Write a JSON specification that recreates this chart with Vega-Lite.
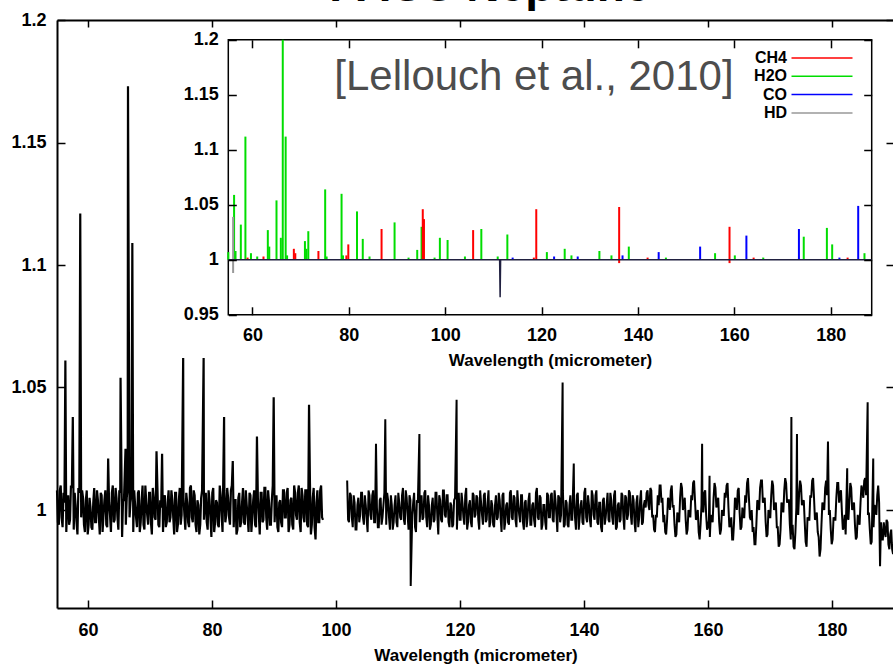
{
"$schema":"https://vega.github.io/schema/vega-lite/v6.json",
"width":837,"height":588,
"autosize":{"type":"none"},
"padding":{"left":57,"top":20,"right":0,"bottom":57},
"background":"white",
"config":{"view":{"stroke":null},"axis":{"labelFont":"Liberation Sans","labelFontSize":18,"labelFontWeight":"bold","labelColor":"#000","titleFont":"Liberation Sans","titleFontSize":17,"titleFontWeight":"bold","titleColor":"#000","domainColor":"#000","tickColor":"#000","tickWidth":1.5,"grid":false,"labelFlush":false}},
"datasets":{
"a":[{"w":55,"f":1.008},{"w":55.3,"f":0.994},{"w":55.6,"f":1.01},{"w":55.9,"f":0.993},{"w":56.2,"f":1.003},{"w":56.35,"f":1.061},{"w":56.5,"f":0.991},{"w":56.8,"f":1.006},{"w":57.1,"f":0.996},{"w":57.4,"f":1.009},{"w":57.55,"f":1.038},{"w":57.7,"f":0.992},{"w":58,"f":1.002},{"w":58.3,"f":0.99},{"w":58.6,"f":1.007},{"w":58.75,"f":1.121},{"w":58.9,"f":0.997},{"w":59.2,"f":1.005},{"w":59.5,"f":0.991},{"w":59.8,"f":1.008},{"w":60.1,"f":0.994},{"w":60.4,"f":1.001},{"w":60.7,"f":0.992},
{"w":61,"f":1.009},{"w":61.3,"f":0.995},{"w":61.6,"f":1.004},{"w":61.9,"f":0.99},{"w":62.2,"f":1.006},{"w":62.5,"f":0.998},{"w":62.8,"f":1.008},{"w":63.1,"f":0.993},{"w":63.25,"f":1.021},{"w":63.4,"f":1.003},{"w":63.7,"f":0.991},{"w":64,"f":1.01},{"w":64.3,"f":0.996},{"w":64.6,"f":1.005},{"w":64.9,"f":0.992},{"w":65.2,"f":1.007},{"w":65.25,"f":1.054},{"w":65.5,"f":0.989},{"w":65.8,"f":1.004},{"w":66.05,"f":1.025},{"w":66.1,"f":0.994},{"w":66.4,"f":1.009},{"w":66.45,"f":1.173},{"w":66.7,"f":0.997},
{"w":67,"f":1.006},{"w":67.15,"f":1.109},{"w":67.3,"f":0.991},{"w":67.6,"f":1.002},{"w":67.9,"f":0.993},{"w":68.2,"f":1.008},{"w":68.5,"f":0.995},{"w":68.8,"f":1.01},{"w":69.1,"f":0.992},{"w":69.4,"f":1.003},{"w":69.7,"f":0.994},{"w":70,"f":1.007},{"w":70.3,"f":0.99},{"w":70.6,"f":1.005},{"w":70.9,"f":0.996},{"w":71.05,"f":1.024},{"w":71.2,"f":1.009},{"w":71.5,"f":0.993},{"w":71.8,"f":1.001},{"w":71.95,"f":1.023},{"w":72.1,"f":0.991},{"w":72.4,"f":1.006},{"w":72.7,"f":0.995},
{"w":73,"f":1.008},{"w":73.3,"f":0.997},{"w":73.6,"f":1.004},{"w":73.9,"f":0.99},{"w":74.2,"f":1.007},{"w":74.5,"f":0.994},{"w":74.8,"f":1.009},{"w":75.1,"f":0.998},{"w":75.35,"f":1.062},{"w":75.4,"f":1.005},{"w":75.7,"f":0.992},{"w":76,"f":1.003},{"w":76.3,"f":0.993},{"w":76.6,"f":1.01},{"w":76.9,"f":0.995},{"w":77.2,"f":1.006},{"w":77.5,"f":0.991},{"w":77.8,"f":1.002},{"w":78.1,"f":0.994},{"w":78.4,"f":1.008},{"w":78.65,"f":1.062},{"w":78.7,"f":0.996},
{"w":79,"f":1.007},{"w":79.3,"f":0.992},{"w":79.6,"f":1.004},{"w":79.9,"f":0.989},{"w":80.2,"f":1.009},{"w":80.5,"f":0.995},{"w":80.8,"f":1.003},{"w":81.1,"f":0.993},{"w":81.4,"f":1.006},{"w":81.7,"f":0.991},{"w":81.95,"f":1.038},{"w":82,"f":1.008},{"w":82.3,"f":0.998},{"w":82.6,"f":1.005},{"w":82.9,"f":0.994},{"w":83.2,"f":1.01},{"w":83.35,"f":1.02},{"w":83.5,"f":0.993},{"w":83.8,"f":1.004},{"w":84.1,"f":0.992},{"w":84.4,"f":1.007},{"w":84.7,"f":0.995},
{"w":85,"f":1.009},{"w":85.3,"f":0.994},{"w":85.6,"f":1.002},{"w":85.9,"f":0.991},{"w":86.2,"f":1.006},{"w":86.5,"f":0.997},{"w":86.8,"f":1.008},{"w":87.1,"f":0.993},{"w":87.25,"f":1.03},{"w":87.4,"f":1.005},{"w":87.7,"f":0.99},{"w":88,"f":1.007},{"w":88.3,"f":0.996},{"w":88.6,"f":1.009},{"w":88.9,"f":0.992},{"w":89.2,"f":1.003},{"w":89.5,"f":0.994},{"w":89.8,"f":1.01},{"w":89.95,"f":1.046},{"w":90.1,"f":0.995},{"w":90.4,"f":1.006},{"w":90.7,"f":0.991},
{"w":91,"f":1.004},{"w":91.3,"f":0.993},{"w":91.6,"f":1.008},{"w":91.9,"f":0.997},{"w":92.2,"f":1.009},{"w":92.5,"f":0.994},{"w":92.8,"f":1.005},{"w":93.1,"f":0.992},{"w":93.4,"f":1.007},{"w":93.7,"f":0.996},{"w":94,"f":1.01},{"w":94.3,"f":0.991},{"w":94.6,"f":1.006},{"w":94.9,"f":0.995},{"w":95.2,"f":1.008},{"w":95.5,"f":0.993},{"w":95.65,"f":1.043},{"w":95.8,"f":1.011},{"w":96.1,"f":0.994},{"w":96.4,"f":1.009},{"w":96.7,"f":0.988},
{"w":97,"f":1.008},{"w":97.3,"f":0.995},{"w":97.6,"f":1.01},{"w":97.9,"f":0.996},
{"w":55.15,"f":0.995},{"w":55.45,"f":1.008},{"w":55.75,"f":0.997},{"w":56.05,"f":1.007},{"w":56.65,"f":1.004},{"w":56.95,"f":0.994},{"w":57.25,"f":1.01},{"w":57.85,"f":1.007},{"w":58.15,"f":0.995},{"w":58.45,"f":1.009},{"w":59.05,"f":1.008},{"w":59.35,"f":0.994},{"w":59.65,"f":1.004},{"w":59.95,"f":0.99},{"w":60.25,"f":1.005},{"w":60.55,"f":0.993},{"w":60.85,"f":1.003},
{"w":61.15,"f":0.995},{"w":61.45,"f":1.008},{"w":61.75,"f":0.997},{"w":62.05,"f":1.007},{"w":62.35,"f":0.991},{"w":62.65,"f":1.004},{"w":62.95,"f":0.994},{"w":63.55,"f":0.998},{"w":63.85,"f":1.007},{"w":64.15,"f":0.995},{"w":64.45,"f":1.009},{"w":64.75,"f":0.997},{"w":65.05,"f":1.008},{"w":65.65,"f":1.004},{"w":66.25,"f":1.005},{"w":66.85,"f":1.003},
{"w":67.45,"f":1.008},{"w":67.75,"f":0.997},{"w":68.05,"f":1.007},{"w":68.35,"f":0.991},{"w":68.65,"f":1.004},{"w":68.95,"f":0.994},{"w":69.25,"f":1.01},{"w":69.55,"f":0.998},{"w":69.85,"f":1.007},{"w":70.15,"f":0.995},{"w":70.45,"f":1.009},{"w":70.75,"f":0.997},{"w":71.35,"f":0.994},{"w":71.65,"f":1.004},{"w":72.25,"f":1.005},{"w":72.55,"f":0.993},{"w":72.85,"f":1.003},
{"w":73.15,"f":0.995},{"w":73.45,"f":1.008},{"w":73.75,"f":0.997},{"w":74.05,"f":1.007},{"w":74.35,"f":0.991},{"w":74.65,"f":1.004},{"w":74.95,"f":0.994},{"w":75.55,"f":0.998},{"w":75.85,"f":1.007},{"w":76.15,"f":0.995},{"w":76.45,"f":1.009},{"w":76.75,"f":0.997},{"w":77.05,"f":1.008},{"w":77.35,"f":0.994},{"w":77.65,"f":1.004},{"w":77.95,"f":0.99},{"w":78.25,"f":1.005},{"w":78.85,"f":1.003},
{"w":79.15,"f":0.995},{"w":79.45,"f":1.008},{"w":79.75,"f":0.997},{"w":80.05,"f":1.007},{"w":80.35,"f":0.991},{"w":80.65,"f":1.004},{"w":80.95,"f":0.994},{"w":81.25,"f":1.01},{"w":81.55,"f":0.998},{"w":82.15,"f":0.995},{"w":82.45,"f":1.009},{"w":82.75,"f":0.997},{"w":83.05,"f":1.008},{"w":83.65,"f":1.004},{"w":83.95,"f":0.99},{"w":84.25,"f":1.005},{"w":84.55,"f":0.993},{"w":84.85,"f":1.003},
{"w":85.15,"f":0.995},{"w":85.45,"f":1.008},{"w":85.75,"f":0.997},{"w":86.05,"f":1.007},{"w":86.35,"f":0.991},{"w":86.65,"f":1.004},{"w":86.95,"f":0.994},{"w":87.55,"f":0.998},{"w":87.85,"f":1.007},{"w":88.15,"f":0.995},{"w":88.45,"f":1.009},{"w":88.75,"f":0.997},{"w":89.05,"f":1.008},{"w":89.35,"f":0.994},{"w":89.65,"f":1.004},{"w":90.25,"f":1.005},{"w":90.55,"f":0.993},{"w":90.85,"f":1.003},
{"w":91.15,"f":0.995},{"w":91.45,"f":1.008},{"w":91.75,"f":0.997},{"w":92.05,"f":1.007},{"w":92.35,"f":0.991},{"w":92.65,"f":1.004},{"w":92.95,"f":0.994},{"w":93.25,"f":1.01},{"w":93.55,"f":0.998},{"w":93.85,"f":1.007},{"w":94.15,"f":0.995},{"w":94.45,"f":1.009},{"w":94.75,"f":0.997},{"w":95.05,"f":1.008},{"w":95.35,"f":0.994},{"w":95.95,"f":0.99},{"w":96.25,"f":1.005},{"w":96.55,"f":0.993},{"w":96.85,"f":1.003},
{"w":97.15,"f":0.995},{"w":97.45,"f":1.008},{"w":97.75,"f":0.997}],
"b":[{"w":101.8,"f":1.012},{"w":102.1,"f":0.995},{"w":102.4,"f":1.006},{"w":102.7,"f":0.993},{"w":103,"f":1.003},{"w":103.3,"f":0.992},{"w":103.6,"f":1.005},{"w":103.9,"f":0.998},{"w":104.2,"f":1.007},{"w":104.5,"f":0.994},{"w":104.8,"f":1.002},{"w":105.1,"f":0.991},{"w":105.4,"f":1.006},{"w":105.7,"f":0.996},{"w":106,"f":1.008},{"w":106.3,"f":0.995},{"w":106.45,"f":1.027},{"w":106.6,"f":1.001},{"w":106.9,"f":0.993},{"w":107.2,"f":1.005},{"w":107.5,"f":0.997},
{"w":107.8,"f":1.007},{"w":107.95,"f":1.037},{"w":108.1,"f":0.994},{"w":108.4,"f":1.004},{"w":108.7,"f":0.992},{"w":109,"f":1.002},{"w":109.3,"f":0.995},{"w":109.6,"f":1.006},{"w":109.9,"f":0.993},{"w":110.2,"f":1.003},{"w":110.5,"f":0.996},{"w":110.8,"f":1.009},{"w":111.1,"f":0.994},{"w":111.4,"f":1.005},{"w":111.7,"f":0.992},{"w":112,"f":1.004},{"w":112.05,"f":0.969},{"w":112.3,"f":0.998},{"w":112.6,"f":1.007},{"w":112.9,"f":0.991},{"w":113.2,"f":1.003},{"w":113.45,"f":1.031},{"w":113.5,"f":0.995},
{"w":113.8,"f":1.006},{"w":114.1,"f":0.997},{"w":114.4,"f":1.008},{"w":114.7,"f":0.993},{"w":115,"f":1.002},{"w":115.3,"f":0.994},{"w":115.6,"f":1.005},{"w":115.9,"f":0.996},{"w":116.2,"f":1.007},{"w":116.5,"f":0.99},{"w":116.8,"f":1.004},{"w":117.1,"f":0.995},{"w":117.4,"f":1.008},{"w":117.7,"f":0.997},{"w":118,"f":1.006},{"w":118.3,"f":0.993},{"w":118.6,"f":1.002},{"w":118.9,"f":0.994},{"w":119.2,"f":1.005},{"w":119.45,"f":1.045},{"w":119.5,"f":0.992},
{"w":119.8,"f":1.007},{"w":120.1,"f":0.996},{"w":120.4,"f":1.003},{"w":120.7,"f":0.994},{"w":121,"f":1.009},{"w":121.3,"f":0.995},{"w":121.6,"f":1.004},{"w":121.9,"f":0.993},{"w":122.2,"f":1.006},{"w":122.5,"f":0.998},{"w":122.8,"f":1.005},{"w":123.1,"f":0.992},{"w":123.4,"f":1.003},{"w":123.7,"f":0.994},{"w":124,"f":1.007},{"w":124.3,"f":0.996},{"w":124.6,"f":1.008},{"w":124.9,"f":0.995},{"w":125.2,"f":1.002},{"w":125.5,"f":0.993},
{"w":125.8,"f":1.006},{"w":126.1,"f":0.997},{"w":126.4,"f":1.004},{"w":126.7,"f":0.991},{"w":127,"f":1.007},{"w":127.3,"f":0.995},{"w":127.6,"f":1.003},{"w":127.9,"f":0.994},{"w":128.2,"f":1.008},{"w":128.5,"f":0.996},{"w":128.8,"f":1.005},{"w":129.1,"f":0.993},{"w":129.4,"f":1.002},{"w":129.7,"f":0.995},{"w":130,"f":1.006},{"w":130.3,"f":0.992},{"w":130.6,"f":1.004},{"w":130.9,"f":0.997},{"w":131.2,"f":1.007},{"w":131.5,"f":0.994},
{"w":131.8,"f":1.003},{"w":132.1,"f":0.993},{"w":132.4,"f":1.009},{"w":132.7,"f":0.996},{"w":133,"f":1.005},{"w":133.3,"f":0.994},{"w":133.6,"f":1.002},{"w":133.9,"f":0.992},{"w":134.2,"f":1.006},{"w":134.5,"f":0.997},{"w":134.8,"f":1.007},{"w":135.1,"f":0.995},{"w":135.4,"f":1.004},{"w":135.7,"f":0.991},{"w":136,"f":1.005},{"w":136.3,"f":0.998},{"w":136.55,"f":1.052},{"w":136.6,"f":1.008},{"w":136.9,"f":0.994},{"w":137.2,"f":1.003},{"w":137.5,"f":0.993},
{"w":137.8,"f":1.006},{"w":138.1,"f":0.996},{"w":138.35,"f":1.019},{"w":138.4,"f":1.005},{"w":138.7,"f":0.992},{"w":139,"f":1.007},{"w":139.3,"f":0.997},{"w":139.6,"f":1.004},{"w":139.9,"f":0.994},{"w":140.2,"f":1.009},{"w":140.5,"f":0.995},{"w":140.8,"f":1.002},{"w":141.1,"f":0.993},{"w":141.4,"f":1.006},{"w":141.7,"f":0.996},{"w":142,"f":1.008},{"w":142.3,"f":0.994},{"w":142.6,"f":1.003},{"w":142.9,"f":0.991},{"w":143.2,"f":1.005},{"w":143.5,"f":0.997},
{"w":143.8,"f":1.007},{"w":144.1,"f":0.995},{"w":144.4,"f":1.004},{"w":144.7,"f":0.994},{"w":145,"f":1.008},{"w":145.3,"f":0.993},{"w":145.6,"f":1.003},{"w":145.9,"f":0.996},{"w":146.2,"f":1.006},{"w":146.5,"f":0.992},{"w":146.8,"f":1.005},{"w":147.1,"f":0.998},{"w":147.4,"f":1.007},{"w":147.7,"f":0.994},{"w":148,"f":1.004},{"w":148.3,"f":0.991},{"w":148.6,"f":1.006},{"w":148.9,"f":0.997},{"w":149.2,"f":1.008},{"w":149.5,"f":0.995},
{"w":149.8,"f":1.004},{"w":150.1,"f":1.007},{"w":150.4,"f":1.002},{"w":150.7,"f":1.009},{"w":151,"f":0.997},{"w":151.3,"f":0.992},{"w":151.6,"f":0.998},{"w":151.9,"f":1.006},{"w":152.2,"f":1.01},{"w":152.5,"f":1.003},{"w":152.8,"f":0.995},{"w":153.1,"f":0.991},{"w":153.4,"f":0.996},{"w":153.7,"f":1.004},{"w":154,"f":1.008},{"w":154.3,"f":1.001},{"w":154.6,"f":0.994},{"w":154.9,"f":0.99},{"w":155.2,"f":0.997},{"w":155.5,"f":1.005},
{"w":155.8,"f":1.009},{"w":156.1,"f":1.002},{"w":156.4,"f":0.996},{"w":156.7,"f":0.992},{"w":157,"f":0.999},{"w":157.3,"f":1.006},{"w":157.6,"f":1.011},{"w":157.9,"f":1.004},{"w":158.2,"f":0.997},{"w":158.5,"f":0.991},{"w":158.8,"f":0.994},{"w":159.05,"f":1.027},{"w":159.1,"f":1.003},{"w":159.4,"f":1.007},{"w":159.7,"f":0.998},{"w":160,"f":0.993},{"w":160.25,"f":1.014},{"w":160.3,"f":0.989},{"w":160.6,"f":0.996},{"w":160.9,"f":1.005},{"w":161.2,"f":1.009},{"w":161.5,"f":1.003},
{"w":161.8,"f":0.995},{"w":162.1,"f":0.992},{"w":162.4,"f":0.998},{"w":162.7,"f":1.007},{"w":163,"f":1.01},{"w":163.3,"f":1.001},{"w":163.6,"f":0.994},{"w":163.9,"f":0.988},{"w":164.2,"f":0.995},{"w":164.5,"f":1.004},{"w":164.8,"f":1.008},{"w":165.1,"f":0.999},{"w":165.4,"f":0.993},{"w":165.7,"f":0.997},{"w":166,"f":1.006},{"w":166.3,"f":1.011},{"w":166.6,"f":1.005},{"w":166.9,"f":0.996},{"w":167.2,"f":0.991},{"w":167.5,"f":0.986},
{"w":167.8,"f":0.994},{"w":168.1,"f":1.003},{"w":168.4,"f":1.009},{"w":168.7,"f":1.012},{"w":169,"f":1.004},{"w":169.3,"f":0.995},{"w":169.6,"f":0.99},{"w":169.9,"f":0.997},{"w":170.2,"f":1.006},{"w":170.5,"f":1.01},{"w":170.8,"f":1.002},{"w":171.1,"f":0.993},{"w":171.4,"f":0.985},{"w":171.7,"f":0.992},{"w":172,"f":1.002},{"w":172.3,"f":1.008},{"w":172.6,"f":1.011},{"w":172.9,"f":1.004},{"w":173.2,"f":0.994},{"w":173.45,"f":1.038},{"w":173.5,"f":0.99},
{"w":173.8,"f":0.985},{"w":174.1,"f":0.991},{"w":174.35,"f":1.031},{"w":174.4,"f":1.001},{"w":174.7,"f":1.007},{"w":175,"f":1.01},{"w":175.3,"f":1.003},{"w":175.6,"f":0.995},{"w":175.9,"f":0.985},{"w":176.2,"f":0.996},{"w":176.5,"f":1.006},{"w":176.8,"f":1.012},{"w":177.1,"f":1.005},{"w":177.4,"f":0.997},{"w":177.7,"f":0.991},{"w":178,"f":0.981},{"w":178.3,"f":0.994},{"w":178.6,"f":1.002},{"w":178.9,"f":1.009},{"w":179.2,"f":1.006},{"w":179.35,"f":1.028},{"w":179.5,"f":0.998},
{"w":179.8,"f":0.992},{"w":180.1,"f":0.988},{"w":180.4,"f":0.996},{"w":180.7,"f":1.005},{"w":181,"f":1.011},{"w":181.3,"f":1.007},{"w":181.6,"f":0.999},{"w":181.9,"f":0.993},{"w":182.2,"f":0.99},{"w":182.45,"f":1.017},{"w":182.5,"f":0.997},{"w":182.8,"f":1.004},{"w":183.1,"f":1.009},{"w":183.4,"f":1.002},{"w":183.7,"f":0.994},{"w":184,"f":0.989},{"w":184.3,"f":0.995},{"w":184.6,"f":1.003},{"w":184.9,"f":1.008},{"w":185.2,"f":1.012},{"w":185.5,"f":1.006},{"w":185.75,"f":1.044},
{"w":185.8,"f":0.998},{"w":186.1,"f":0.992},{"w":186.4,"f":0.987},{"w":186.65,"f":1.021},{"w":186.7,"f":0.993},{"w":187,"f":1.001},{"w":187.3,"f":1.006},{"w":187.6,"f":1.003},{"w":187.75,"f":0.977},{"w":187.9,"f":0.995},{"w":188.2,"f":0.988},{"w":188.5,"f":0.991},{"w":188.8,"f":0.996},{"w":189.1,"f":0.986},{"w":189.4,"f":0.99},{"w":189.7,"f":0.984},{"w":190,"f":0.987},
{"w":101.95,"f":0.996},{"w":102.25,"f":1.007},{"w":102.55,"f":0.997},{"w":102.85,"f":1.006},{"w":103.15,"f":0.992},{"w":103.45,"f":1.002},{"w":103.75,"f":0.995},{"w":104.05,"f":1.007},{"w":104.35,"f":0.997},{"w":104.65,"f":1.006},{"w":104.95,"f":0.996},{"w":105.25,"f":1.008},{"w":105.55,"f":0.998},{"w":105.85,"f":1.006},{"w":106.15,"f":0.995},{"w":106.75,"f":0.993},{"w":107.05,"f":1.004},{"w":107.35,"f":0.994},{"w":107.65,"f":1.002},
{"w":108.25,"f":1.007},{"w":108.55,"f":0.997},{"w":108.85,"f":1.006},{"w":109.15,"f":0.992},{"w":109.45,"f":1.002},{"w":109.75,"f":0.995},{"w":110.05,"f":1.007},{"w":110.35,"f":0.997},{"w":110.65,"f":1.006},{"w":110.95,"f":0.996},{"w":111.25,"f":1.008},{"w":111.55,"f":0.998},{"w":111.85,"f":1.006},{"w":112.45,"f":1.003},{"w":112.75,"f":0.993},{"w":113.05,"f":1.004},{"w":113.65,"f":1.002},
{"w":113.95,"f":0.996},{"w":114.25,"f":1.007},{"w":114.55,"f":0.997},{"w":114.85,"f":1.006},{"w":115.15,"f":0.992},{"w":115.45,"f":1.002},{"w":115.75,"f":0.995},{"w":116.05,"f":1.007},{"w":116.35,"f":0.997},{"w":116.65,"f":1.006},{"w":116.95,"f":0.996},{"w":117.25,"f":1.008},{"w":117.55,"f":0.998},{"w":117.85,"f":1.006},{"w":118.15,"f":0.995},{"w":118.45,"f":1.003},{"w":118.75,"f":0.993},{"w":119.05,"f":1.004},{"w":119.65,"f":1.002},
{"w":119.95,"f":0.996},{"w":120.25,"f":1.007},{"w":120.55,"f":0.997},{"w":120.85,"f":1.006},{"w":121.15,"f":0.992},{"w":121.45,"f":1.002},{"w":121.75,"f":0.995},{"w":122.05,"f":1.007},{"w":122.35,"f":0.997},{"w":122.65,"f":1.006},{"w":122.95,"f":0.996},{"w":123.25,"f":1.008},{"w":123.55,"f":0.998},{"w":123.85,"f":1.006},{"w":124.15,"f":0.995},{"w":124.45,"f":1.003},{"w":124.75,"f":0.993},{"w":125.05,"f":1.004},{"w":125.35,"f":0.994},{"w":125.65,"f":1.002},
{"w":125.95,"f":0.996},{"w":126.25,"f":1.007},{"w":126.55,"f":0.997},{"w":126.85,"f":1.006},{"w":127.15,"f":0.992},{"w":127.45,"f":1.002},{"w":127.75,"f":0.995},{"w":128.05,"f":1.007},{"w":128.35,"f":0.997},{"w":128.65,"f":1.006},{"w":128.95,"f":0.996},{"w":129.25,"f":1.008},{"w":129.55,"f":0.998},{"w":129.85,"f":1.006},{"w":130.15,"f":0.995},{"w":130.45,"f":1.003},{"w":130.75,"f":0.993},{"w":131.05,"f":1.004},{"w":131.35,"f":0.994},{"w":131.65,"f":1.002},
{"w":131.95,"f":0.996},{"w":132.25,"f":1.007},{"w":132.55,"f":0.997},{"w":132.85,"f":1.006},{"w":133.15,"f":0.992},{"w":133.45,"f":1.002},{"w":133.75,"f":0.995},{"w":134.05,"f":1.007},{"w":134.35,"f":0.997},{"w":134.65,"f":1.006},{"w":134.95,"f":0.996},{"w":135.25,"f":1.008},{"w":135.55,"f":0.998},{"w":135.85,"f":1.006},{"w":136.15,"f":0.995},{"w":136.75,"f":0.993},{"w":137.05,"f":1.004},{"w":137.35,"f":0.994},{"w":137.65,"f":1.002},
{"w":137.95,"f":0.996},{"w":138.55,"f":0.997},{"w":138.85,"f":1.006},{"w":139.15,"f":0.992},{"w":139.45,"f":1.002},{"w":139.75,"f":0.995},{"w":140.05,"f":1.007},{"w":140.35,"f":0.997},{"w":140.65,"f":1.006},{"w":140.95,"f":0.996},{"w":141.25,"f":1.008},{"w":141.55,"f":0.998},{"w":141.85,"f":1.006},{"w":142.15,"f":0.995},{"w":142.45,"f":1.003},{"w":142.75,"f":0.993},{"w":143.05,"f":1.004},{"w":143.35,"f":0.994},{"w":143.65,"f":1.002},
{"w":143.95,"f":0.996},{"w":144.25,"f":1.007},{"w":144.55,"f":0.997},{"w":144.85,"f":1.006},{"w":145.15,"f":0.992},{"w":145.45,"f":1.002},{"w":145.75,"f":0.995},{"w":146.05,"f":1.007},{"w":146.35,"f":0.997},{"w":146.65,"f":1.006},{"w":146.95,"f":0.996},{"w":147.25,"f":1.008},{"w":147.55,"f":0.998},{"w":147.85,"f":1.006},{"w":148.15,"f":0.995},{"w":148.45,"f":1.003},{"w":148.75,"f":0.993},{"w":149.05,"f":1.004},{"w":149.35,"f":0.994},{"w":149.65,"f":1.002},
{"w":149.95,"f":1.001},{"w":150.25,"f":1.008},{"w":150.55,"f":1.0},{"w":150.85,"f":1.008},{"w":151.15,"f":0.998},{"w":151.45,"f":0.991},{"w":151.75,"f":0.997},{"w":152.05,"f":1.002},{"w":152.35,"f":1.01},{"w":152.65,"f":1.005},{"w":152.95,"f":0.998},{"w":153.25,"f":0.99},{"w":153.55,"f":1.005},{"w":153.85,"f":1.0},{"w":154.15,"f":1.01},{"w":154.45,"f":1.002},{"w":154.75,"f":0.989},{"w":155.05,"f":0.999},{"w":155.35,"f":0.995},{"w":155.65,"f":1.011},
{"w":155.95,"f":1.0},{"w":156.25,"f":1.005},{"w":156.55,"f":0.99},{"w":156.85,"f":1.0},{"w":157.15,"f":0.997},{"w":157.45,"f":1.004},{"w":157.75,"f":1.012},{"w":158.05,"f":0.996},{"w":158.35,"f":1.0},{"w":158.65,"f":0.988},{"w":158.95,"f":1.002},{"w":159.25,"f":0.999},{"w":159.55,"f":1.008},{"w":159.85,"f":0.992},{"w":160.15,"f":0.996},{"w":160.45,"f":0.998},{"w":160.75,"f":0.995},{"w":161.05,"f":1.011},{"w":161.35,"f":1.001},{"w":161.65,"f":1.005},
{"w":161.95,"f":0.99},{"w":162.25,"f":1.0},{"w":162.55,"f":0.998},{"w":162.85,"f":1.005},{"w":163.15,"f":1.011},{"w":163.45,"f":0.993},{"w":163.75,"f":0.997},{"w":164.05,"f":0.988},{"w":164.35,"f":1.005},{"w":164.65,"f":1.0},{"w":164.95,"f":1.009},{"w":165.25,"f":0.992},{"w":165.55,"f":1.001},{"w":165.85,"f":0.997},{"w":166.15,"f":1.003},{"w":166.45,"f":1.013},{"w":166.75,"f":0.997},{"w":167.05,"f":1.0},{"w":167.35,"f":0.993},{"w":167.65,"f":0.986},
{"w":167.95,"f":1.004},{"w":168.25,"f":1.0},{"w":168.55,"f":1.012},{"w":168.85,"f":1.003},{"w":169.15,"f":1.005},{"w":169.45,"f":0.989},{"w":169.75,"f":1.0},{"w":170.05,"f":0.997},{"w":170.35,"f":1.012},{"w":170.65,"f":1.0},{"w":170.95,"f":1.003},{"w":171.25,"f":0.993},{"w":171.55,"f":0.986},{"w":171.85,"f":1.003},{"w":172.15,"f":0.999},{"w":172.45,"f":1.013},{"w":172.75,"f":1.003},{"w":173.05,"f":1.004},{"w":173.35,"f":0.988},{"w":173.65,"f":0.994},
{"w":173.95,"f":0.984},{"w":174.25,"f":1.001},{"w":174.55,"f":0.998},{"w":174.85,"f":1.012},{"w":175.15,"f":1.002},{"w":175.45,"f":1.004},{"w":175.75,"f":0.987},{"w":176.05,"f":0.997},{"w":176.35,"f":0.996},{"w":176.65,"f":1.005},{"w":176.95,"f":1.013},{"w":177.25,"f":0.996},{"w":177.55,"f":0.999},{"w":177.85,"f":0.989},{"w":178.15,"f":0.984},{"w":178.45,"f":1.003},{"w":178.75,"f":1.0},{"w":179.05,"f":1.012},{"w":179.65,"f":1.0},{"w":179.95,"f":0.986},
{"w":180.25,"f":0.997},{"w":180.55,"f":0.996},{"w":180.85,"f":1.011},{"w":181.15,"f":1.003},{"w":181.45,"f":1.008},{"w":181.75,"f":0.992},{"w":182.05,"f":0.998},{"w":182.65,"f":0.996},{"w":182.95,"f":1.011},{"w":183.25,"f":1.0},{"w":183.55,"f":1.003},{"w":183.85,"f":0.988},{"w":184.15,"f":0.998},{"w":184.45,"f":0.994},{"w":184.75,"f":1.01},{"w":185.05,"f":1.005},{"w":185.35,"f":1.013},{"w":185.95,"f":0.999},{"w":186.25,"f":0.986},{"w":186.85,"f":1.002},
{"w":187.15,"f":0.998},{"w":187.45,"f":1.01},{"w":188.05,"f":0.988},{"w":188.35,"f":0.995},{"w":188.65,"f":0.989},{"w":188.95,"f":0.995},{"w":189.25,"f":0.984},{"w":189.55,"f":0.992},{"w":189.85,"f":0.982}],
"sp":[{"w":55,"f":1.007,"s":"H2O"},{"w":56.2,"f":1.059,"s":"H2O"},{"w":56.5,"f":1.008,"s":"H2O"},{"w":57.6,"f":1.032,"s":"H2O"},{"w":58.55,"f":1.112,"s":"H2O"},{"w":59.7,"f":1.006,"s":"H2O"},{"w":61,"f":1.003,"s":"H2O"},{"w":63.2,"f":1.027,"s":"H2O"},{"w":63.5,"f":1.012,"s":"H2O"},{"w":65,"f":1.054,"s":"H2O"},{"w":65.9,"f":1.02,"s":"H2O"},{"w":66.3,"f":1.2,"s":"H2O"},{"w":66.9,"f":1.112,"s":"H2O"},{"w":67.2,"f":1.004,"s":"H2O"},{"w":70.9,"f":1.017,"s":"H2O"},{"w":71.2,"f":1.01,"s":"H2O"},{"w":71.6,"f":1.026,"s":"H2O"},{"w":75.1,"f":1.064,"s":"H2O"},{"w":75.4,"f":1.003,"s":"H2O"},{"w":78.5,"f":1.06,"s":"H2O"},{"w":78.8,"f":1.004,"s":"H2O"},{"w":81.7,"f":1.044,"s":"H2O"},{"w":82.9,"f":1.019,"s":"H2O"},{"w":84.3,"f":1.003,"s":"H2O"},{"w":89.5,"f":1.034,"s":"H2O"},{"w":92.4,"f":1.002,"s":"H2O"},{"w":94.2,"f":1.009,"s":"H2O"},{"w":95.1,"f":1.03,"s":"H2O"},{"w":97.8,"f":1.002,"s":"H2O"},{"w":98.9,"f":1.02,"s":"H2O"},{"w":100.5,"f":1.018,"s":"H2O"},{"w":104.1,"f":1.003,"s":"H2O"},{"w":107.5,"f":1.028,"s":"H2O"},{"w":110.9,"f":1.003,"s":"H2O"},{"w":112.9,"f":1.023,"s":"H2O"},{"w":121.1,"f":1.007,"s":"H2O"},{"w":124.8,"f":1.01,"s":"H2O"},{"w":126.2,"f":1.004,"s":"H2O"},{"w":132,"f":1.008,"s":"H2O"},{"w":134.5,"f":1.004,"s":"H2O"},{"w":138.1,"f":1.012,"s":"H2O"},{"w":145.8,"f":1.002,"s":"H2O"},{"w":156,"f":1.006,"s":"H2O"},{"w":160.1,"f":1.004,"s":"H2O"},{"w":166,"f":1.002,"s":"H2O"},{"w":174.4,"f":1.021,"s":"H2O"},{"w":179.2,"f":1.029,"s":"H2O"},{"w":180.3,"f":1.014,"s":"H2O"},{"w":187,"f":1.006,"s":"H2O"},
{"w":59,"f":1.002,"s":"CH4"},{"w":62.3,"f":1.003,"s":"CH4"},{"w":68.6,"f":1.01,"s":"CH4"},{"w":68.9,"f":1.006,"s":"CH4"},{"w":73.7,"f":1.008,"s":"CH4"},{"w":79.5,"f":1.004,"s":"CH4"},{"w":79.9,"f":1.014,"s":"CH4"},{"w":86.8,"f":1.028,"s":"CH4"},{"w":95.35,"f":1.046,"s":"CH4"},{"w":95.6,"f":1.037,"s":"CH4"},{"w":105.8,"f":1.027,"s":"CH4"},{"w":118.4,"f":1.002,"s":"CH4"},{"w":118.9,"f":1.046,"s":"CH4"},{"w":136.1,"f":1.048,"s":"CH4"},{"w":136.1,"f":0.997,"s":"CH4"},{"w":142,"f":1.002,"s":"CH4"},{"w":159,"f":1.03,"s":"CH4"},{"w":159,"f":0.997,"s":"CH4"},{"w":164,"f":1.002,"s":"CH4"},{"w":183.5,"f":1.002,"s":"CH4"},
{"w":114,"f":1.002,"s":"CO"},{"w":122.6,"f":1.003,"s":"CO"},{"w":127.5,"f":1.003,"s":"CO"},{"w":136.8,"f":1.004,"s":"CO"},{"w":144.3,"f":1.007,"s":"CO"},{"w":152.9,"f":1.012,"s":"CO"},{"w":162.5,"f":1.022,"s":"CO"},{"w":173.4,"f":1.028,"s":"CO"},{"w":181.8,"f":1.002,"s":"CO"},{"w":185.7,"f":1.049,"s":"CO"},
{"w":56,"f":1.039,"s":"HD"},{"w":56,"f":0.988,"s":"HD"}],
"base":[{"w":55,"f":1},{"w":111.3,"f":1},{"w":111.4,"f":0.966},{"w":111.5,"f":1},{"w":188.5,"f":1}]
},
"layer":[
{"data":{"name":"a"},"mark":{"type":"line","color":"#000","strokeWidth":2.2},
 "encoding":{"x":{"field":"w","type":"quantitative","scale":{"domain":[55,190],"nice":false},"axis":{"values":[60,80,100,120,140,160,180],"tickSize":-8,"labelPadding":21,"domainWidth":2,"title":"Wavelength (micrometer)","titlePadding":8,"format":"d"}},
 "y":{"field":"f","type":"quantitative","scale":{"domain":[0.96,1.2],"nice":false,"zero":false},"axis":{"values":[1,1.05,1.1,1.15,1.2],"tickSize":-8,"labelPadding":19,"domainWidth":2,"title":null,"format":"~g"}}}},
{"data":{"name":"b"},"mark":{"type":"line","color":"#000","strokeWidth":2},
 "encoding":{"x":{"field":"w","type":"quantitative","scale":{"domain":[55,190],"nice":false},"axis":null},
 "y":{"field":"f","type":"quantitative","scale":{"domain":[0.96,1.2],"nice":false,"zero":false},"axis":null}}},
{"data":{"values":[{}]},"mark":{"type":"text","text":"PACS Neptune","font":"Liberation Sans","fontSize":46,"fontWeight":"bold","color":"#000","align":"center","baseline":"alphabetic"},
 "encoding":{"x":{"datum":124.8,"type":"quantitative","scale":{"domain":[55,190],"nice":false},"axis":{"orient":"top","values":[60,80,100,120,140,160,180],"labels":false,"tickSize":-7,"domainWidth":2,"title":null}},
 "y":{"datum":1.2078,"type":"quantitative","scale":{"domain":[0.96,1.2],"nice":false,"zero":false},"axis":{"orient":"right","values":[1,1.05,1.1,1.15,1.2],"labels":false,"tickSize":-8,"domainWidth":2,"title":null}}}},
{"data":{"values":[{}]},"mark":{"type":"rect","fill":"white","stroke":"#000","strokeWidth":1.5},
 "encoding":{"x":{"datum":55,"type":"quantitative","scale":{"domain":[55,188.5],"range":[171.3,814.7],"nice":false},"axis":{"values":[60,80,100,120,140,160,180],"offset":-293.2,"tickSize":-8,"labelPadding":19.5,"domain":false,"title":"Wavelength (micrometer)","titlePadding":8,"zindex":1,"format":"d"}},
 "x2":{"datum":188.5},
 "y":{"datum":0.95,"type":"quantitative","scale":{"domain":[0.95,1.2],"range":[294.8,19.8],"nice":false,"zero":false},"axis":{"values":[0.95,1,1.05,1.1,1.15,1.2],"offset":-171.3,"tickSize":-8,"labelPadding":18,"domain":false,"title":null,"zindex":1,"format":"~g"}},
 "y2":{"datum":1.2}}},
{"data":{"name":"sp"},"mark":{"type":"rule","strokeWidth":2},
 "encoding":{"x":{"field":"w","type":"quantitative","scale":{"domain":[55,188.5],"range":[171.3,814.7],"nice":false},"axis":null},
 "y":{"field":"f","type":"quantitative","scale":{"domain":[0.95,1.2],"range":[294.8,19.8],"nice":false,"zero":false},"axis":null},"y2":{"datum":1},
 "color":{"field":"s","type":"nominal","scale":{"domain":["CH4","H2O","CO","HD"],"range":["#ff0000","#00dd00","#0000ff","#999999"]},
  "legend":{"orient":"none","legendX":725,"legendY":30,"title":null,"symbolType":"M-6.1,0H6.1","symbolSize":100,"symbolStrokeWidth":1.5,"symbolOffset":32,"labelAlign":"right","labelOffset":-43,"labelFontSize":16,"labelFont":"Liberation Sans","labelFontWeight":"bold","labelColor":"#000","rowPadding":2.3,"padding":0,"zindex":1}}}},
{"data":{"name":"base"},"mark":{"type":"line","color":"#202040","strokeWidth":1.5},
 "encoding":{"x":{"field":"w","type":"quantitative","scale":{"domain":[55,188.5],"range":[171.3,814.7],"nice":false},"axis":null},
 "y":{"field":"f","type":"quantitative","scale":{"domain":[0.95,1.2],"range":[294.8,19.8],"nice":false,"zero":false},"axis":null}}},
{"data":{"values":[{}]},"mark":{"type":"text","text":"[Lellouch et al., 2010]","font":"Liberation Sans","fontSize":42,"color":"#4d4d4d","align":"left","baseline":"alphabetic"},
 "encoding":{"x":{"datum":77,"type":"quantitative","scale":{"domain":[55,188.5],"range":[171.3,814.7],"nice":false},"axis":null},
 "y":{"datum":1.154,"type":"quantitative","scale":{"domain":[0.95,1.2],"range":[294.8,19.8],"nice":false,"zero":false},"axis":null}}},
{"data":{"values":[{}]},"mark":{"type":"point","opacity":0},
 "encoding":{"x":{"datum":100,"type":"quantitative","scale":{"domain":[55,188.5],"range":[171.3,814.7],"nice":false},"axis":{"orient":"top","offset":-19.8,"values":[60,80,100,120,140,160,180],"labels":false,"tickSize":-8,"domain":false,"title":null,"zindex":1}},
 "y":{"datum":1,"type":"quantitative","scale":{"domain":[0.95,1.2],"range":[294.8,19.8],"nice":false,"zero":false},"axis":{"orient":"right","offset":-22.3,"values":[0.95,1,1.05,1.1,1.15,1.2],"labels":false,"tickSize":-8,"domain":false,"title":null,"zindex":1}}}}
],
"resolve":{"scale":{"x":"independent","y":"independent"},"axis":{"x":"independent","y":"independent"}}
}
